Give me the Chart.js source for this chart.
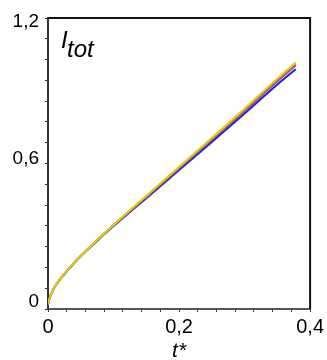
<!DOCTYPE html>
<html>
<head>
<meta charset="utf-8">
<script src="https://cdn.jsdelivr.net/npm/chart.js@4/dist/chart.umd.min.js"></script>
<style>
  html, body { margin: 0; padding: 0; background: #fff; }
  #wrap { position: relative; width: 327px; height: 360px; }
</style>
</head>
<body>
<div id="wrap"><canvas id="itot-chart" width="327" height="360"></canvas></div>
<script>
// dimensionless time t*
const tValues = [0, 0.002, 0.005, 0.01, 0.02, 0.03, 0.045, 0.06, 0.08, 0.1, 0.125, 0.15, 0.2, 0.25, 0.3, 0.35, 0.378];

// I_tot for the four runs
const itotYellow  = [0.02, 0.04, 0.062, 0.09, 0.128, 0.16, 0.205, 0.245, 0.297, 0.346, 0.407, 0.466, 0.586, 0.705, 0.826, 0.950, 1.016];
const itotMagenta = [0.02, 0.04, 0.062, 0.09, 0.128, 0.16, 0.205, 0.245, 0.297, 0.346, 0.406, 0.465, 0.584, 0.702, 0.822, 0.945, 1.010];
const itotRed     = [0.02, 0.04, 0.062, 0.09, 0.128, 0.16, 0.205, 0.245, 0.296, 0.345, 0.404, 0.462, 0.580, 0.698, 0.817, 0.939, 1.004];
const itotBlue    = [0.02, 0.04, 0.062, 0.09, 0.127, 0.159, 0.204, 0.243, 0.294, 0.342, 0.400, 0.457, 0.573, 0.689, 0.806, 0.926, 0.989];

// tick labels (decimal comma as in the original)
const xTickValues = [0, 0.2, 0.4];
const xTickLabels = ['0', '0,2', '0,4'];
const yTickValues = [0, 0.6, 1.2];
const yTickLabels = ['0', '0,6', '1,2'];
const minorPerMajor = 7;

const toPoints = (ys) => ys.map((y, i) => ({ x: tValues[i], y: y }));

// minor + major ticks, 7 subdivisions between labelled values
function buildTicks(majors) {
    const ticks = [];
    for (let m = 0; m < majors.length - 1; m++) {
        const step = (majors[m + 1] - majors[m]) / minorPerMajor;
        for (let k = 0; k < minorPerMajor; k++) ticks.push({ value: majors[m] + k * step });
    }
    ticks.push({ value: majors[majors.length - 1] });
    return ticks;
}

function labelFor(values, labels, v) {
    const idx = values.findIndex(m => Math.abs(m - v) < 1e-6);
    return idx >= 0 ? labels[idx] : '';
}

// the original nudges its y labels off the tick a little:
// '0' and '0,6' sit above, '1,2' below. done with an empty extra line
const yLabelShift = { '0': 'up', '0,6': 'up', '1,2': 'down' };
const yLabelLineHeight = { '0': 14, '0,6': 10, '1,2': 8 };

// top/right frame + the I_tot label inside the plot
const framePlugin = {
    id: 'frame',
    afterDraw(chart) {
        const { ctx, chartArea: a } = chart;
        ctx.save();
        ctx.strokeStyle = '#111';
        ctx.lineWidth = 2;
        ctx.beginPath();
        ctx.moveTo(a.left, a.top);
        ctx.lineTo(a.right, a.top);
        ctx.lineTo(a.right, a.bottom);
        ctx.stroke();

        ctx.fillStyle = '#000';
        ctx.textBaseline = 'alphabetic';
        ctx.font = 'italic 24px Arial, "Liberation Sans", sans-serif';
        ctx.fillText('I', a.left + 13, a.top + 30);
        ctx.fillText('tot', a.left + 19, a.top + 39);
        ctx.restore();
    }
};

const ctx = document.getElementById('itot-chart').getContext('2d');
new Chart(ctx, {
    type: 'line',
    data: {
        datasets: [
            { data: toPoints(itotYellow),  borderColor: '#d8d400' },
            { data: toPoints(itotMagenta), borderColor: '#d050c8' },
            { data: toPoints(itotRed),     borderColor: '#b05020' },
            { data: toPoints(itotBlue),    borderColor: '#1020ff' }
        ].map(ds => Object.assign(ds, {
            borderWidth: 2,
            pointRadius: 0,
            cubicInterpolationMode: 'monotone',
            fill: false
        }))
    },
    plugins: [framePlugin],
    options: {
        responsive: false,
        animation: false,
        layout: { padding: { left: 0, top: 18, right: 14, bottom: 0 } },
        plugins: {
            legend: { display: false },
            tooltip: { enabled: false }
        },
        scales: {
            x: {
                type: 'linear',
                min: 0,
                max: 0.4,
                afterBuildTicks: (scale) => { scale.ticks = buildTicks(xTickValues); },
                afterFit: (scale) => { scale.height = 51; },
                ticks: {
                    autoSkip: false,
                    maxRotation: 0,
                    padding: 3,
                    color: '#000',
                    font: { family: 'Arial, "Liberation Sans", sans-serif', size: 20 },
                    callback: (v) => labelFor(xTickValues, xTickLabels, v)
                },
                grid: { drawOnChartArea: false, drawTicks: true, tickLength: 3, color: '#333' },
                border: { display: true, color: '#555', width: 2 },
                title: {
                    display: true,
                    text: 't*',
                    color: '#000',
                    padding: { top: 0, bottom: -4 },
                    font: { family: 'Arial, "Liberation Sans", sans-serif', size: 21, style: 'italic' }
                }
            },
            y: {
                min: 0,
                max: 1.2,
                afterBuildTicks: (scale) => { scale.ticks = buildTicks(yTickValues); },
                afterFit: (scale) => { scale.width = 48; },
                ticks: {
                    autoSkip: false,
                    padding: 6,
                    color: '#000',
                    font: (c) => {
                        const lbl = c.tick ? labelFor(yTickValues, yTickLabels, c.tick.value) : '';
                        return {
                            family: 'Arial, "Liberation Sans", sans-serif',
                            size: 19,
                            lineHeight: (yLabelLineHeight[lbl] || 19) + 'px'
                        };
                    },
                    callback: (v) => {
                        const lbl = labelFor(yTickValues, yTickLabels, v);
                        if (yLabelShift[lbl] === 'up') return [lbl, ''];
                        if (yLabelShift[lbl] === 'down') return ['', lbl];
                        return lbl;
                    }
                },
                grid: { drawOnChartArea: false, drawTicks: true, tickLength: 3, color: '#333' },
                border: { display: true, color: '#333', width: 2 }
            }
        }
    }
});
</script>
</body>
</html>
